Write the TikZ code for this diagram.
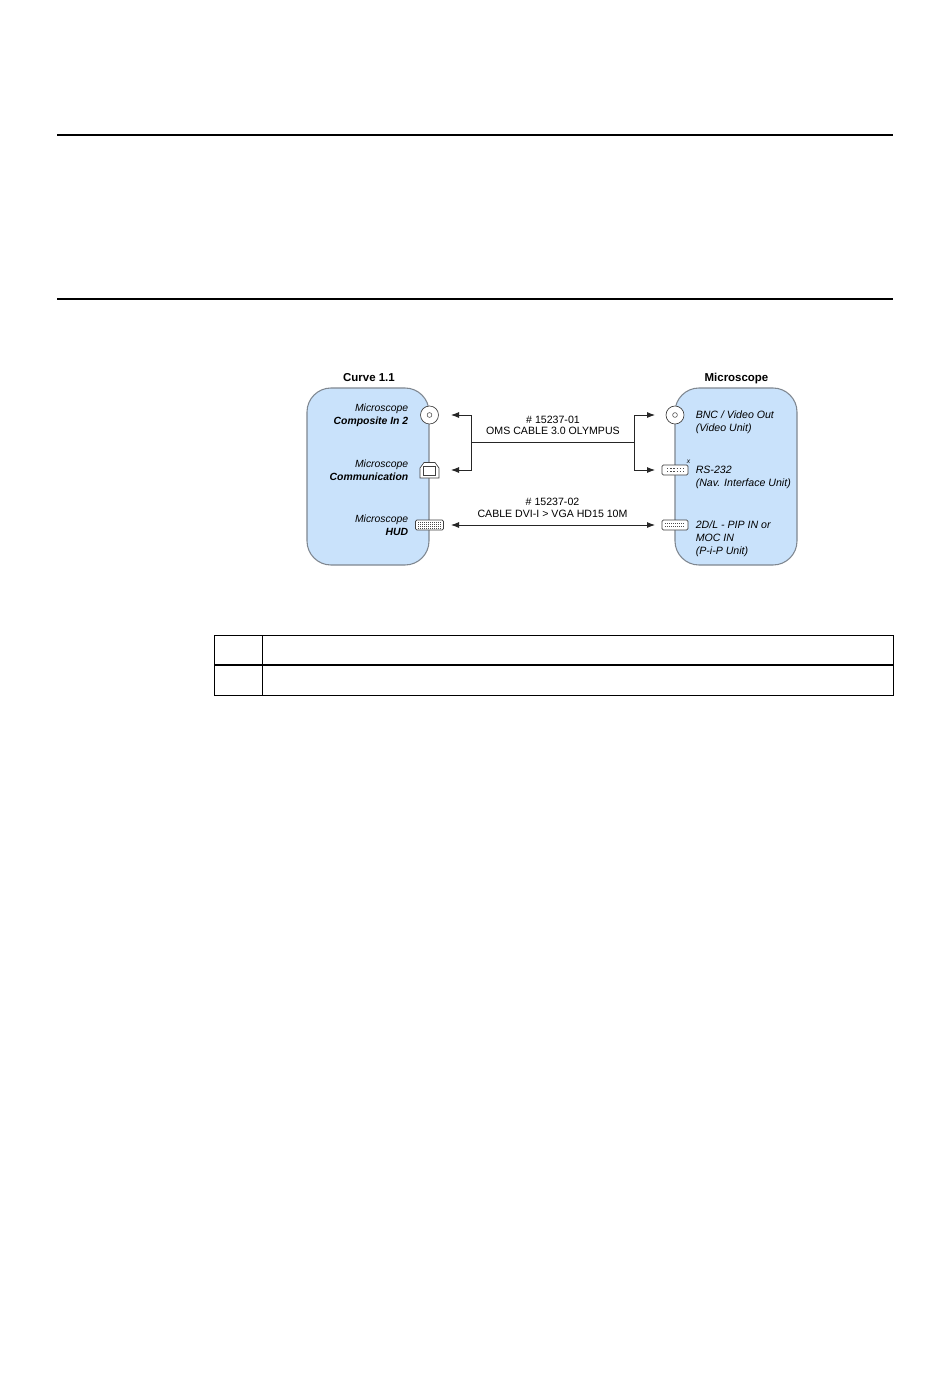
\documentclass[tikz,border=0pt]{standalone}
\usepackage{fontspec}
\setmainfont{Liberation Sans}
\usetikzlibrary{arrows.meta}
\definecolor{panel}{HTML}{C9E2FB}
\definecolor{edgegray}{HTML}{7F8790}
\tikzset{
  x=0.75pt,y=-0.75pt,
  rule/.style={line width=1.5pt,black},
  panelbox/.style={draw=edgegray,line width=0.8pt,fill=panel,rounded corners=18pt},
  title/.style={font=\fontsize{8.6}{9.6}\selectfont\bfseries,inner sep=0pt,anchor=base},
  lab/.style={font=\fontsize{7.8}{9.8}\selectfont\itshape,inner sep=0pt,align=right,anchor=east},
  rlab/.style={font=\fontsize{7.95}{9.75}\selectfont\itshape,inner sep=0pt,align=left,anchor=west},
  cable/.style={font=\fontsize{7.95}{8.6}\selectfont,inner sep=0pt,align=center},
  wire/.style={line width=0.65pt,black!85},
  tipped/.style={wire,-{Latex[length=6pt,width=4.5pt]}},
  both/.style={wire,{Latex[length=6pt,width=4.5pt]}-{Latex[length=6pt,width=4.5pt]}},
  port/.style={draw=black!75,fill=white,line width=0.5pt},
  grid/.style={line width=0.7pt,black},
}
\begin{document}
\begin{tikzpicture}
\useasboundingbox (0,0) rectangle (950,1378);
\fill[white] (0,0) rectangle (950,1378);
% page rules
\draw[rule] (57,135) -- (893,135);
\draw[rule] (57,299.4) -- (893,299.4);
% panels
\draw[panelbox] (307,388) rectangle (429,565);
\draw[panelbox] (675,388) rectangle (797,565);
\node[title] (tl) at (369,381.5) {Curve 1.1};
\node[title] (tr) at (736.5,381.5) {Microscope};
% left labels
\node[lab] (l1) at (408.5,415) {Microscope\\\textbf{Composite In 2}};
\node[lab] (l2) at (408.5,470) {Microscope\\\textbf{Communication}};
\node[lab] (l3) at (408.5,525) {Microscope\\\textbf{HUD}};
% right labels
\node[rlab] (r1) at (695.5,422) {BNC / Video Out\\(Video Unit)};
\node[rlab] (r2) at (695.5,477) {RS-232\\(Nav. Interface Unit)};
\node[rlab] (r3) at (695.5,538.5) {2D/L - PIP IN or\\MOC IN\\(P-i-P Unit)};
\node[font=\fontsize{5}{6}\selectfont\itshape,inner sep=0pt] (star) at (688.5,462) {x};
% left ports
\node[port,circle,minimum size=13.5pt,inner sep=0pt] (pa) at (429.5,415) {};
\node[draw=black!75,circle,minimum size=3.6pt,inner sep=0pt] (pai) at (429.5,415) {};
\draw[port] (420,478) -- (420,468) -- (424,462.5) -- (435,462.5) -- (439,468) -- (439,478) -- cycle;
\draw[draw=black!75,line width=0.5pt] (423.5,466.5) rectangle (435.5,475);
\draw[port,rounded corners=1pt] (415.5,520) rectangle (443.5,530);
\foreach \y in {522,524,526,528}
  \draw[black!70,line width=0.6pt,dash pattern=on 1pt off 0.5pt] (418,\y) -- (441,\y);
% right ports
\node[port,circle,minimum size=13.5pt,inner sep=0pt] (pb) at (675,415) {};
\node[draw=black!75,circle,minimum size=3.6pt,inner sep=0pt] (pbi) at (675,415) {};
\draw[port,rounded corners=1pt] (662,465) rectangle (688,475);
\foreach \y in {468.5,471.5}
  \draw[black!70,line width=0.7pt,dash pattern=on 1pt off 1.4pt] (667,\y) -- (684,\y);
\draw[port,rounded corners=1pt] (662,520) rectangle (688,530);
\foreach \y in {523.5,526.5}
  \draw[black!70,line width=0.7pt,dash pattern=on 1pt off 0.5pt] (665,\y) -- (685,\y);
% connector anchors
\coordinate (al) at (451,415);
\coordinate (bl) at (451,470);
\coordinate (ar) at (655,415);
\coordinate (br) at (655,470);
\coordinate (cl) at (451,525);
\coordinate (cr) at (655,525);
\coordinate (jl) at (471,442.5);
\coordinate (jr) at (634,442.5);
% connectors
\draw[wire] (jl) -- (jr);
\draw[tipped] (jl) |- (al);
\draw[tipped] (jl) |- (bl);
\draw[tipped] (jr) |- (ar);
\draw[tipped] (jr) |- (br);
\draw[both] (cl) -- (cr);
\node[cable] (c1) at (553,425.5) {\# 15237-01\\OMS CABLE 3.0 OLYMPUS};
\node[cable] (c2) at (552.5,508) {\# 15237-02\\CABLE DVI-I > VGA HD15 10M};
% table
\draw[grid] (214.5,635.5) rectangle (893,695.5);
\draw[line width=1.1pt,black] (214.5,665) -- (893,665);
\draw[grid] (262.5,635.5) -- (262.5,695.5);
\end{tikzpicture}
\end{document}
